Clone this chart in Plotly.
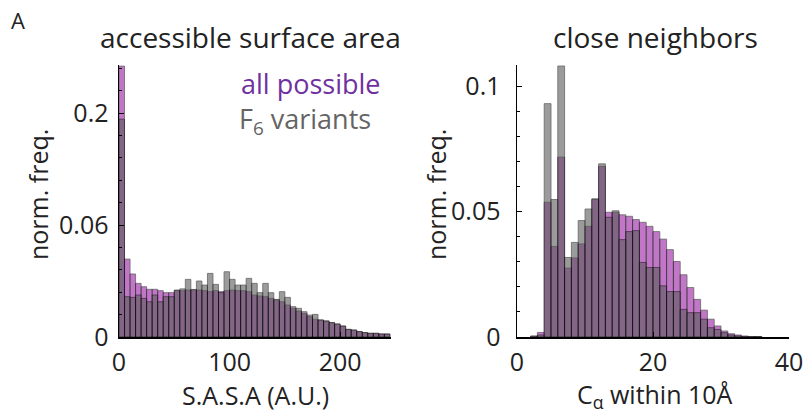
import plotly.graph_objects as go

# ---- data ----
sasa_bin_width = 5
sasa_all = [0.242, 0.0696, 0.0563, 0.0479, 0.0449, 0.0426, 0.0426, 0.0414, 0.0396, 0.0396,
            0.0414, 0.0414, 0.042, 0.042, 0.042, 0.0414, 0.0405, 0.0414, 0.0405, 0.0414,
            0.042, 0.0414, 0.0414, 0.0405, 0.0375, 0.0366, 0.036, 0.0345, 0.033, 0.0315,
            0.0286, 0.0256, 0.0232, 0.0211, 0.0182, 0.0158, 0.0152, 0.0143, 0.0128, 0.0116,
            0.0098, 0.0068, 0.0062, 0.0048, 0.0039, 0.0033, 0.0033, 0.0027, 0.0027]
sasa_f6 = [0.1946, 0.036, 0.0354, 0.0375, 0.0345, 0.0315, 0.0375, 0.0315, 0.036, 0.036,
           0.042, 0.043, 0.0515, 0.0425, 0.05, 0.0464, 0.0568, 0.047, 0.0396, 0.0583,
           0.0515, 0.0464, 0.0464, 0.0524, 0.0479, 0.0396, 0.0479, 0.0396, 0.0336, 0.0405,
           0.0354, 0.0271, 0.0256, 0.0226, 0.0196, 0.0202, 0.0152, 0.0143, 0.0128, 0.0116,
           0.0098, 0.0068, 0.0062, 0.0048, 0.0039, 0.0033, 0.0033, 0.0027, 0.0027]

nb_start = 2
nb_all = [0.0003, 0.0018, 0.0537, 0.0361, 0.0717, 0.0275, 0.0315, 0.0371, 0.0441, 0.0548,
          0.068, 0.0497, 0.0497, 0.0487, 0.0481, 0.0468, 0.0457, 0.0441, 0.042, 0.039,
          0.0348, 0.0301, 0.0248, 0.0197, 0.015, 0.0107, 0.0071, 0.0044, 0.0024, 0.0013,
          0.0008, 0.0004, 0.0002, 0.0002]
nb_f6 = [0.0004, 0.0008, 0.093, 0.0548, 0.108, 0.0317, 0.0377, 0.0464, 0.051, 0.0551,
         0.069, 0.0477, 0.0503, 0.0388, 0.042, 0.0424, 0.0297, 0.0277, 0.0277, 0.0204,
         0.0181, 0.0181, 0.011, 0.0097, 0.0097, 0.0071, 0.0037, 0.003, 0.0017, 0.0008,
         0.0004, 0.0002, 0.0001, 0.0001]

left_yticks = [0, 0.1, 0.2]
left_yticktext = ["0", "0.06", "0.2"]
left_xticks = [0, 100, 200]
right_yticks = [0, 0.05, 0.1]
right_yticktext = ["0", "0.05", "0.1"]
right_xticks = [0, 20, 40]

purple = "rgb(155,28,165)"
gray = "rgb(90,90,90)"
alpha = 0.6
font = "Open Sans, Liberation Sans, sans-serif"

sasa_x = [sasa_bin_width * (i + 0.5) for i in range(len(sasa_all))]
nb_x = [nb_start + i + 0.5 for i in range(len(nb_all))]

fig = go.Figure()
for xs, ys, w, color, ax in [
    (sasa_x, sasa_all, sasa_bin_width, purple, ("x", "y")),
    (sasa_x, sasa_f6, sasa_bin_width, gray, ("x", "y")),
    (nb_x, nb_all, 1, purple, ("x2", "y2")),
    (nb_x, nb_f6, 1, gray, ("x2", "y2")),
]:
    fig.add_trace(go.Bar(x=xs, y=ys, width=w, xaxis=ax[0], yaxis=ax[1],
                         marker=dict(color=color, opacity=alpha,
                                     line=dict(color="black", width=0.8)),
                         showlegend=False, hoverinfo="skip"))

W, H = 811, 420
def px(x):
    return x / W
def py(y):
    return 1 - y / H

axis_common = dict(showline=True, linecolor="black", linewidth=1.5, ticks="inside",
                   ticklen=5, tickcolor="black", tickfont=dict(size=25, color="#222", family=font),
                   showgrid=False, zeroline=False, mirror=False, automargin=False)

fig.update_layout(
    width=W, height=H, margin=dict(l=0, r=0, t=0, b=0),
    paper_bgcolor="white", plot_bgcolor="white", barmode="overlay", bargap=0,
    font=dict(family=font, color="#222"),
    xaxis=dict(domain=[px(119), px(391)], range=[0, 246], anchor="y",
               tickvals=left_xticks, ticklabelstandoff=2, **axis_common),
    yaxis=dict(domain=[py(337), py(65)], range=[0, 0.243], anchor="x",
               tickvals=left_yticks, ticktext=left_yticktext, ticklabelstandoff=4,
               minor=dict(dtick=0.02, ticks="inside", ticklen=3, tickcolor="black"),
               **axis_common),
    xaxis2=dict(domain=[px(517), px(789)], range=[0, 40], anchor="y2",
                tickvals=right_xticks, ticklabelstandoff=2, **axis_common),
    yaxis2=dict(domain=[py(337), py(65)], range=[0, 0.1084], anchor="x2",
                tickvals=right_yticks, ticktext=right_yticktext, ticklabelstandoff=10,
                minor=dict(dtick=0.01, ticks="inside", ticklen=3, tickcolor="black"),
                **axis_common),
)

ann = [
    dict(text="A", x=px(18), y=py(20), size=22, color="#222"),
    dict(text="accessible surface area", x=px(251), y=py(37), size=28, color="#222"),
    dict(text="close neighbors", x=px(655), y=py(37), size=28, color="#222"),
    dict(text="S.A.S.A (A.U.)", x=px(255), y=py(395), size=25, color="#222"),
    dict(text="C<sub>α</sub> within 10Å", x=px(655), y=py(395), size=25, color="#222"),
    dict(text="all possible", x=px(310), y=py(84), size=27, color="rgb(112,48,160)"),
    dict(text="F<sub>6</sub> variants", x=px(305), y=py(120), size=27, color="rgb(100,100,100)"),
]
for a in ann:
    fig.add_annotation(text=a["text"], x=a["x"], y=a["y"], xref="paper", yref="paper",
                       showarrow=False, xanchor="center", yanchor="middle",
                       font=dict(size=a["size"], color=a["color"], family=font))
for xc in [38, 436]:
    fig.add_annotation(text="norm. freq.", x=px(xc), y=py(195), xref="paper", yref="paper",
                       showarrow=False, textangle=-90, xanchor="center", yanchor="middle",
                       font=dict(size=25, color="#222", family=font))

fig.write_html("out.html", config={"displayModeBar": False, "staticPlot": True},
               post_script="document.body.style.margin='0px';document.body.style.overflow='hidden';")
